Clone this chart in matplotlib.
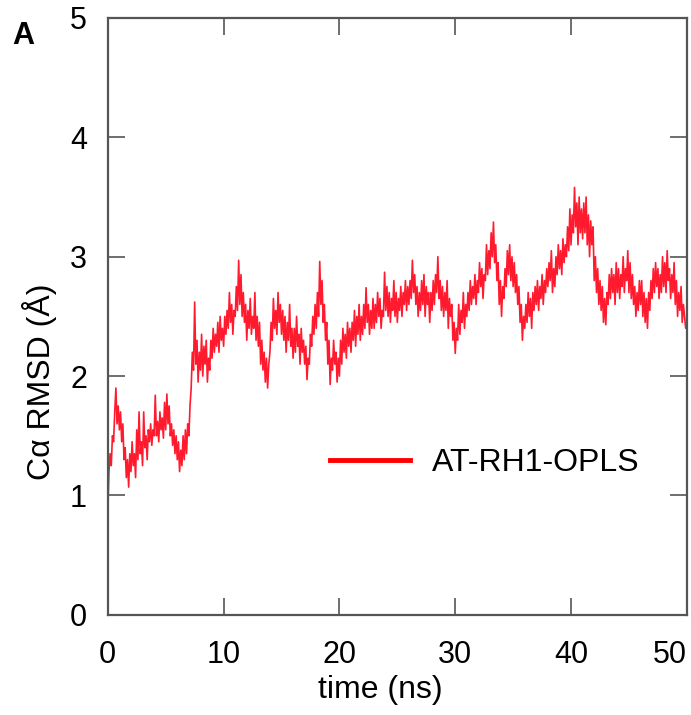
import numpy as np
import matplotlib
matplotlib.use("Agg")
import matplotlib.pyplot as plt

plt.rcParams["font.family"] = ["Liberation Sans", "DejaVu Sans"]

# -------------------------------
# DATA (0.1 ns steps)
# -------------------------------

time_step = 0.1
rmsd = [
    0.85, 1.20, 1.35, 1.25, 1.50, 1.45, 1.70, 1.90, 1.60, 1.75,
    1.55, 1.70, 1.45, 1.60, 1.30, 1.40, 1.15, 1.30, 1.07, 1.35,
    1.20, 1.45, 1.25, 1.35, 1.15, 1.55, 1.30, 1.70, 1.35, 1.45,
    1.25, 1.70, 1.40, 1.50, 1.30, 1.55, 1.45, 1.60, 1.42, 1.55,
    1.50, 1.84, 1.50, 1.62, 1.45, 1.70, 1.55, 1.65, 1.48, 1.78,
    1.55, 1.85, 1.60, 1.75, 1.50, 1.60, 1.42, 1.55, 1.35, 1.50,
    1.30, 1.45, 1.20, 1.38, 1.25, 1.50, 1.30, 1.55, 1.35, 1.60,
    1.50, 1.75, 1.90, 2.20, 2.05, 2.62, 2.10, 2.30, 1.95, 2.20,
    2.05, 2.35, 2.00, 2.25, 2.10, 2.30, 1.95, 2.15, 2.05, 2.30,
    2.15, 2.40, 2.20, 2.35, 2.25, 2.45, 2.20, 2.50, 2.30, 2.40,
    2.25, 2.50, 2.35, 2.55, 2.40, 2.70, 2.45, 2.60, 2.35, 2.55,
    2.50, 2.75, 2.55, 2.97, 2.60, 2.85, 2.50, 2.70, 2.45, 2.60,
    2.30, 2.55, 2.40, 2.65, 2.35, 2.50, 2.40, 2.70, 2.30, 2.50,
    2.25, 2.45, 2.10, 2.30, 2.05, 2.20, 1.95, 2.15, 1.90, 2.10,
    2.20, 2.45, 2.30, 2.65, 2.40, 2.55, 2.35, 2.70, 2.45, 2.60,
    2.35, 2.55, 2.30, 2.50, 2.20, 2.45, 2.30, 2.60, 2.25, 2.40,
    2.15, 2.40, 2.20, 2.50, 2.25, 2.35, 2.10, 2.40, 2.20, 2.30,
    2.10, 2.25, 1.97, 2.15, 2.10, 2.35, 2.25, 2.50, 2.35, 2.60,
    2.40, 2.70, 2.50, 2.96, 2.60, 2.80, 2.45, 2.60, 2.30, 2.45,
    2.10, 2.30, 1.93, 2.15, 2.05, 2.30, 2.10, 2.20, 1.95, 2.15,
    2.00, 2.30, 2.10, 2.40, 2.20, 2.35, 2.15, 2.45, 2.25, 2.40,
    2.20, 2.45, 2.30, 2.55, 2.25, 2.50, 2.35, 2.60, 2.30, 2.50,
    2.35, 2.60, 2.40, 2.74, 2.45, 2.60, 2.35, 2.55, 2.40, 2.65,
    2.40, 2.60, 2.45, 2.70, 2.50, 2.65, 2.40, 2.55, 2.50, 2.87,
    2.55, 2.75, 2.50, 2.70, 2.45, 2.65, 2.55, 2.80, 2.50, 2.70,
    2.45, 2.65, 2.55, 2.75, 2.50, 2.70, 2.60, 2.80, 2.55, 2.75,
    2.60, 2.80, 2.65, 2.97, 2.70, 2.85, 2.60, 2.75, 2.50, 2.70,
    2.55, 2.80, 2.60, 2.85, 2.50, 2.75, 2.60, 2.70, 2.45, 2.70,
    2.55, 2.80, 2.60, 2.85, 2.70, 3.00, 2.65, 2.80, 2.55, 2.75,
    2.50, 2.70, 2.55, 2.80, 2.40, 2.65, 2.50, 2.60, 2.30, 2.45,
    2.19, 2.40, 2.30, 2.60, 2.35, 2.55, 2.45, 2.70, 2.40, 2.60,
    2.50, 2.70, 2.55, 2.80, 2.60, 2.75, 2.65, 2.85, 2.60, 2.80,
    2.70, 2.95, 2.75, 2.90, 2.65, 2.85, 2.80, 3.10, 2.85, 3.05,
    2.90, 3.20, 3.00, 3.29, 2.95, 3.10, 2.80, 2.95, 2.60, 2.80,
    2.50, 2.75, 2.65, 2.90, 2.75, 3.05, 2.85, 3.10, 2.80, 3.00,
    2.75, 2.95, 2.70, 2.85, 2.60, 2.75, 2.45, 2.60, 2.30, 2.50,
    2.40, 2.60, 2.45, 2.70, 2.50, 2.65, 2.40, 2.70, 2.55, 2.75,
    2.60, 2.80, 2.55, 2.75, 2.65, 2.85, 2.60, 2.80, 2.70, 2.90,
    2.75, 2.95, 2.80, 3.05, 2.70, 2.90, 2.75, 3.00, 2.85, 3.10,
    2.90, 3.05, 2.85, 3.15, 2.95, 3.10, 3.00, 3.25, 3.05, 3.40,
    3.10, 3.35, 3.20, 3.58, 3.25, 3.45, 3.10, 3.50, 3.20, 3.40,
    3.15, 3.45, 3.20, 3.50, 3.10, 3.35, 3.00, 3.30, 3.10, 3.25,
    2.80, 3.00, 2.70, 2.90, 2.60, 2.80, 2.55, 2.75, 2.45, 2.65,
    2.43, 2.70, 2.60, 2.85, 2.65, 2.90, 2.70, 2.85, 2.60, 2.95,
    2.70, 2.90, 2.65, 2.85, 2.75, 3.00, 2.70, 2.90, 2.80, 3.05,
    2.70, 2.95, 2.65, 2.85, 2.60, 2.75, 2.50, 2.70, 2.55, 2.80,
    2.60, 2.80, 2.50, 2.70, 2.45, 2.65, 2.40, 2.70, 2.55, 2.80,
    2.65, 2.90, 2.70, 2.95, 2.75, 2.90, 2.65, 2.85, 2.70, 3.00,
    2.75, 2.95, 2.70, 3.05, 2.80, 2.90, 2.65, 2.85, 2.70, 2.95,
    2.60, 2.80, 2.50, 2.70, 2.55, 2.75, 2.45, 2.60, 2.50, 2.40,
    2.45,
]
time_ns = np.arange(len(rmsd)) * time_step

x_ticks = [0, 10, 20, 30, 40, 50]
y_ticks = [0, 1, 2, 3, 4, 5]
series_label = "AT-RH1-OPLS"

# -------------------------------
# FIGURE
# -------------------------------

fig = plt.figure(figsize=(6.91, 7.15), dpi=100)
ax = fig.add_axes([0.156, 0.140, 0.838, 0.835])

ax.plot(time_ns, rmsd, color="#ff1a2e", linewidth=1.2, label=series_label)

ax.set_xlim(0, 50)
ax.set_ylim(0, 5)
ax.set_xticks(x_ticks)
ax.set_yticks(y_ticks)

ax.tick_params(direction="in", length=12, width=1.2, color="#555555",
               labelsize=22, top=True, right=True)
ax.tick_params(axis="x", pad=18)
ax.tick_params(axis="y", pad=15)
for s in ax.spines.values():
    s.set_linewidth(1.6)
    s.set_color("#555555")

# last x label sits inside the right edge, as in the original
xlabels = ax.get_xticklabels()
xlabels[-1].set_horizontalalignment("right")
xlabels[-1].set_x(50)

leg = ax.legend(loc="center left", bbox_to_anchor=(330 / 691, 1 - 463 / 715),
                bbox_transform=fig.transFigure, frameon=False, fontsize=23,
                borderpad=0, borderaxespad=0, handlelength=2.5,
                handletextpad=0.7)
for ln in leg.get_lines():
    ln.set_linewidth(3.5)
    ln.set_color("#ff0000")

fig.text(40 / 691, 1 - 382 / 715, "Cα RMSD (Å)", rotation=90,
         ha="center", va="center", fontsize=23)
fig.text(380 / 691, 1 - 690 / 715, "time (ns)", ha="center", va="center",
         fontsize=23)
fig.text(23 / 691, 1 - 36 / 715, "A", ha="center", va="center",
         fontsize=22, fontweight="bold")

fig.savefig("out.png", dpi=100)
